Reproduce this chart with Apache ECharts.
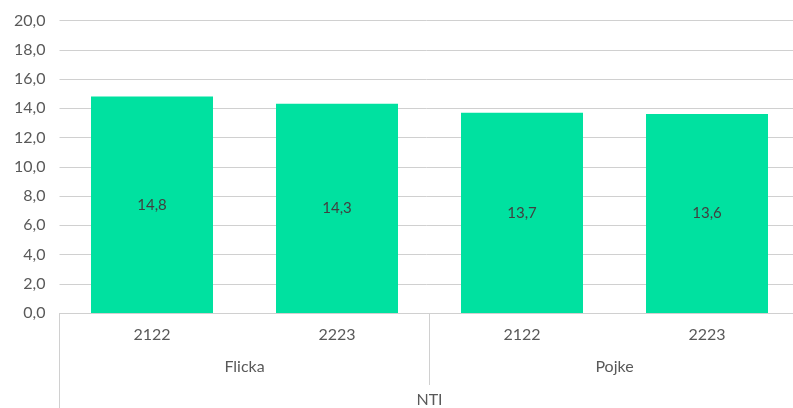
<!DOCTYPE html>
<html>
<head>
<meta charset="utf-8">
<script src="https://cdn.jsdelivr.net/npm/echarts@6/dist/echarts.min.js"></script>
<style>
  html, body { margin: 0; padding: 0; background: #fff; }
  #chart { width: 793px; height: 408px; }
</style>
</head>
<body>
<div id="chart"></div>
<script>
// data
const years = ['2122', '2223', '2122', '2223'];
const genders = ['Flicka', 'Pojke'];
const programs = ['NTI'];
const values = [14.8, 14.3, 13.7, 13.6];

const FONT = 'Lato';
const LABEL_COLOR = '#595959';
const LINE_COLOR = '#d0d0d0';

const comma = v => Number(v).toFixed(1).replace('.', ',');

const chart = echarts.init(document.getElementById('chart'));

// x-axis levels share the same grid, only the lower ones draw group boundaries
const levelAxis = (data, margin, tickLen) => ({
  type: 'category',
  data: data,
  position: 'bottom',
  gridIndex: 0,
  axisLine: { show: false },
  axisTick: { show: true, alignWithLabel: false, length: tickLen, lineStyle: { color: LINE_COLOR } },
  axisLabel: { margin: margin, color: LABEL_COLOR, fontFamily: FONT, fontSize: 16 },
  splitLine: { show: false }
});

chart.setOption({
  animation: false,
  grid: { left: 59.5, width: 740, top: 20.5, bottom: 95, outerBoundsMode: 'none' },
  xAxis: [
    {
      type: 'category',
      data: years,
      axisLine: { show: true, lineStyle: { color: LINE_COLOR } },
      axisTick: { show: false },
      axisLabel: { margin: 14, color: LABEL_COLOR, fontFamily: FONT, fontSize: 16 }
    },
    levelAxis(genders, 46, 72),
    levelAxis(programs, 79, 96)
  ],
  yAxis: {
    type: 'value',
    min: 0,
    max: 20,
    interval: 2,
    axisLine: { show: false },
    axisTick: { show: false },
    axisLabel: { margin: 14, color: LABEL_COLOR, fontFamily: FONT, fontSize: 16, formatter: comma },
    splitLine: { lineStyle: { color: LINE_COLOR } }
  },
  series: [
    {
      type: 'bar',
      data: values,
      barWidth: 122,
      itemStyle: { color: '#00e1a0' },
      label: {
        show: true,
        position: 'inside',
        color: '#404040',
        fontFamily: FONT,
        fontSize: 15,
        formatter: p => comma(p.value)
      }
    }
  ]
});
</script>
</body>
</html>
